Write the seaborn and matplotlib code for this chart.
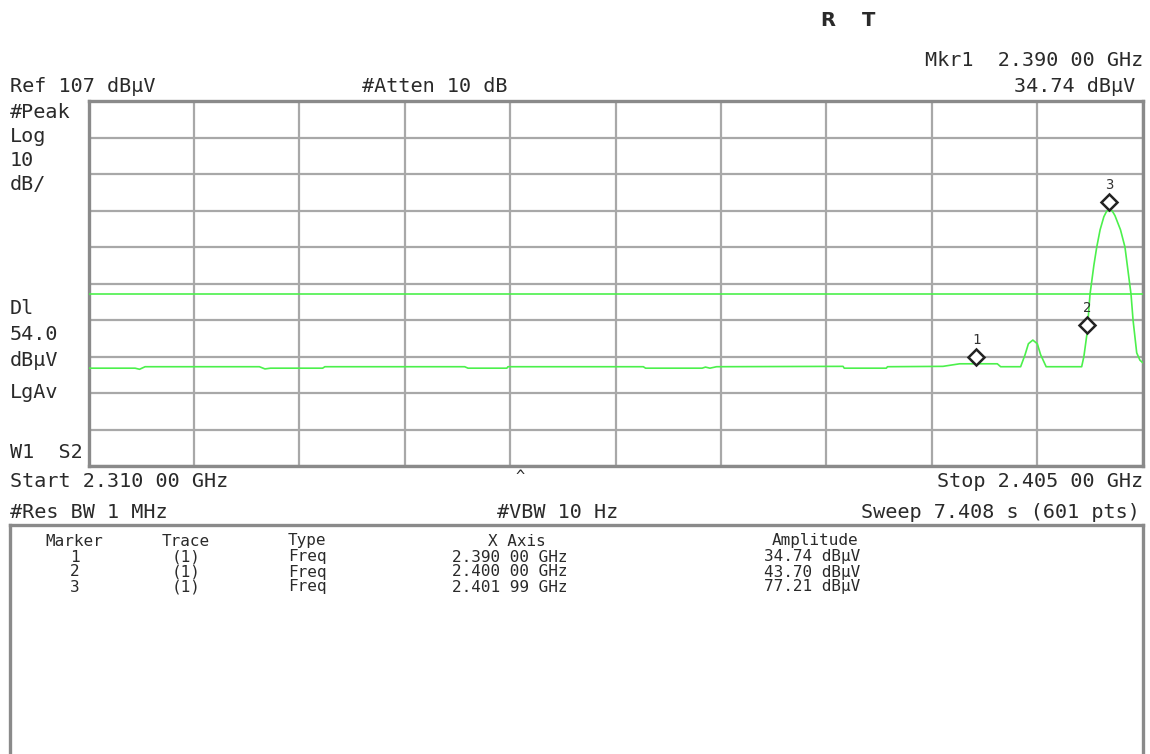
"""Pantallazo de analizador de espectro: banda 2.310-2.405 GHz con marcadores."""

import matplotlib
matplotlib.use("Agg")
import matplotlib.pyplot as plt
import matplotlib.transforms as mtransforms
import pandas as pd
import seaborn as sns

trace_freq_mhz = [
    2310.0, 2314.2, 2314.6, 2315.1, 2325.4, 2325.9, 2326.4, 2331.1, 2331.3,
    2343.9, 2344.2, 2347.7, 2347.8, 2360.0, 2360.2, 2365.3, 2365.6, 2366.0,
    2366.6, 2378.0, 2378.1, 2381.9, 2382.0, 2387.0, 2388.5, 2391.9, 2392.2,
    2394.0, 2394.4, 2394.7, 2395.1, 2395.5, 2395.8, 2396.3, 2399.5, 2399.7,
    2400.0, 2400.1, 2400.25, 2400.6, 2400.86, 2401.16, 2401.5, 2401.75,
    2402.0, 2402.25, 2402.5, 2403.0, 2403.4, 2403.95, 2404.13, 2404.46,
    2404.75, 2405.0,
]
trace_amp_dbuv = [
    33.8, 33.8, 33.5, 34.2, 34.2, 33.6, 33.8, 33.8, 34.2,
    34.2, 33.8, 33.8, 34.2, 34.2, 33.8, 33.8, 34.1, 33.8,
    34.2, 34.3, 33.8, 33.8, 34.2, 34.3, 35.0, 35.0, 34.2,
    34.2, 37.5, 40.5, 41.5, 40.5, 37.5, 34.2, 34.2, 37.0,
    43.7, 48.0, 54.0, 62.0, 67.0, 71.7, 75.3, 76.8,
    77.2, 76.9, 75.6, 71.7, 67.0, 54.0, 47.0, 38.0,
    36.0, 35.3,
]

# Marcadores
marker_ids = ["1", "2", "3"]
marker_freq_mhz = [2390.00, 2400.00, 2401.99]
marker_amp_dbuv = [34.74, 43.70, 77.21]
marker_freq_txt = ["2.390 00 GHz", "2.400 00 GHz", "2.401 99 GHz"]
marker_amp_txt = ["34.74 dBμV", "43.70 dBμV", "77.21 dBμV"]

# Ajustes de pantalla
ref_level = 107.0
db_per_div = 10.0
display_line = 54.0
start_mhz = 2310.0
stop_mhz = 2405.0

GREEN = "#4cf04c"
GRID = "#a8a8a8"
FRAME = "#8a8a8a"
INK = "#2a2a2a"

sns.set_theme(style="white")
plt.rcParams["font.family"] = ["DejaVu Sans Mono", "DejaVu Sans"]

W, H = 1150, 754
fig = plt.figure(figsize=(W / 100, H / 100), dpi=100)
fig.patch.set_facecolor("white")


def px(x, y):
    """Coordenadas en píxeles -> fracción de figura."""
    return x / W, 1 - y / H


# Retícula principal
left, right, top, bottom = 88.5, 1142.7, 101.0, 466.0
ax = fig.add_axes([left / W, 1 - bottom / H, (right - left) / W, (bottom - top) / H])
df = pd.DataFrame({"freq": trace_freq_mhz, "amp": trace_amp_dbuv})
sns.lineplot(data=df, x="freq", y="amp", ax=ax, color=GREEN, lw=1.2, zorder=3)
ax.axhline(display_line, color=GREEN, lw=1.2, zorder=3)

bottom_level = ref_level - 10 * db_per_div
ax.set_xlim(start_mhz, stop_mhz)
ax.set_ylim(bottom_level, ref_level)
ax.set_xticks([start_mhz + i * (stop_mhz - start_mhz) / 10 for i in range(11)])
ax.set_yticks([bottom_level + i * db_per_div for i in range(11)])
ax.grid(True, color=GRID, lw=1.6)
ax.tick_params(left=False, bottom=False, labelleft=False, labelbottom=False)
ax.set_xlabel("")
ax.set_ylabel("")
for sp in ax.spines.values():
    sp.set_color(FRAME)
    sp.set_linewidth(2.4)

# Rombos de marcador, dibujados justo encima del punto
diamond_tr = mtransforms.offset_copy(ax.transData, fig=fig, y=7.5, units="dots")
ax.plot(marker_freq_mhz, marker_amp_dbuv, ls="none", marker="D", ms=8.5,
        mfc="white", mec="#222222", mew=1.8, transform=diamond_tr, zorder=5,
        clip_on=False)
for mid, f, a in zip(marker_ids, marker_freq_mhz, marker_amp_dbuv):
    ax.annotate(mid, (f, a), xytext=(0, 17.5), textcoords="offset points",
                ha="center", va="center", fontsize=10, color="#333333")

# Textos de cabecera
big = dict(fontsize=14.5, color=INK, va="center")
fig.text(*px(820, 20), "R", fontsize=14, fontweight="bold", color=INK,
         va="center", family="DejaVu Sans")
fig.text(*px(862, 20), "T", fontsize=14, fontweight="bold", color=INK,
         va="center", family="DejaVu Sans")
fig.text(*px(1143, 60), "Mkr1  2.390 00 GHz", ha="right", **big)
fig.text(*px(10, 87), "Ref 107 dBμV", ha="left", **big)
fig.text(*px(362, 87), "#Atten 10 dB", ha="left", **big)
fig.text(*px(1135, 87), "34.74 dBμV", ha="right", **big)

# Etiquetas de la izquierda
for label, y in [("#Peak", 112), ("Log", 137), ("10", 161), ("dB/", 185),
                 ("Dl", 309), ("54.0", 335), ("dBμV", 360), ("LgAv", 392),
                 ("W1  S2", 452)]:
    fig.text(*px(10, y), label, ha="left", **big)

# Pie de la retícula
fig.text(*px(520, 476), "^", ha="center", fontsize=11, color=INK, va="center")
fig.text(*px(10, 481), "Start 2.310 00 GHz", ha="left", **big)
fig.text(*px(1143, 481), "Stop 2.405 00 GHz", ha="right", **big)
fig.text(*px(10, 512), "#Res BW 1 MHz", ha="left", **big)
fig.text(*px(497, 512), "#VBW 10 Hz", ha="left", **big)
fig.text(*px(1140, 512), "Sweep 7.408 s (601 pts)", ha="right", **big)

# Tabla de marcadores
tab = fig.add_axes([10 / W, -0.02, (1143 - 10) / W, 1 - 525 / H + 0.02])
tab.set_xticks([])
tab.set_yticks([])
for sp in tab.spines.values():
    sp.set_color(FRAME)
    sp.set_linewidth(2.4)

small = dict(fontsize=11.5, color=INK, va="center")
fig.text(*px(74, 541), "Marker", ha="center", **small)
fig.text(*px(186, 541), "Trace", ha="center", **small)
fig.text(*px(288, 541), "Type", ha="left", **small)
fig.text(*px(517, 541), "X Axis", ha="center", **small)
fig.text(*px(858, 541), "Amplitude", ha="right", **small)
for i, mid in enumerate(marker_ids):
    y = 557 + i * 15
    fig.text(*px(75, y), mid, ha="center", **small)
    fig.text(*px(186, y), "(1)", ha="center", **small)
    fig.text(*px(288, y), "Freq", ha="left", **small)
    fig.text(*px(510, y), marker_freq_txt[i], ha="center", **small)
    fig.text(*px(860, y), marker_amp_txt[i], ha="right", **small)

fig.savefig("out.png", dpi=100)
plt.close(fig)
